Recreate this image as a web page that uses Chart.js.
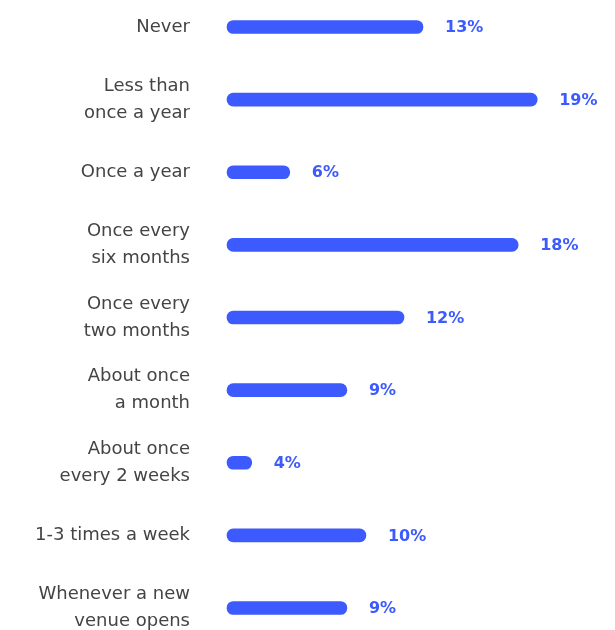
<!DOCTYPE html>
<html>
<head>
<meta charset="utf-8">
<script src="https://cdn.jsdelivr.net/npm/chart.js@4.4.1/dist/chart.umd.min.js"></script>
<style>
  html, body { margin: 0; padding: 0; background: #ffffff; }
  #wrap { width: 615px; height: 630px; }
</style>
</head>
<body>
<div id="wrap"><canvas id="freqChart"></canvas></div>
<script>
const categories = [
  "Never",
  ["Less than", "once a year"],
  "Once a year",
  ["Once every", "six months"],
  ["Once every", "two months"],
  ["About once", "a month"],
  ["About once", "every 2 weeks"],
  "1-3 times a week",
  ["Whenever a new", "venue opens"]
];
const shares = [13, 19, 6, 18, 12, 9, 4, 10, 9];

// value axis range (hidden axis)
const axisMin = 2.7;
const axisMax = 22.3;

const barBlue = "#3c5afd";

const valueLabels = {
  id: "valueLabels",
  afterDatasetsDraw(chart) {
    const ctx = chart.ctx;
    const meta = chart.getDatasetMeta(0);
    ctx.save();
    ctx.font = "bold 16px 'DejaVu Sans', sans-serif";
    ctx.fillStyle = barBlue;
    ctx.textAlign = "left";
    ctx.textBaseline = "middle";
    meta.data.forEach((bar, i) => {
      ctx.fillText(shares[i] + "%", bar.x + 22, bar.y + 1);
    });
    ctx.restore();
  }
};

const ctx = document.getElementById("freqChart").getContext("2d");

new Chart(ctx, {
  type: "bar",
  data: {
    labels: categories,
    datasets: [
      {
        data: shares,
        base: axisMin,
        backgroundColor: barBlue,
        barThickness: 13,
        borderRadius: 7,
        borderSkipped: false,
        clip: false
      }
    ]
  },
  plugins: [valueLabels],
  options: {
    indexAxis: "y",
    responsive: true,
    maintainAspectRatio: false,
    animation: false,
    layout: {
      padding: { top: 27, bottom: 22, left: 0, right: 15 }
    },
    plugins: {
      legend: { display: false },
      tooltip: { enabled: false }
    },
    scales: {
      x: {
        display: false,
        min: axisMin,
        max: axisMax
      },
      y: {
        offset: false,
        afterFit(scale) {
          scale.width = 227;
          scale.paddingTop = 0;
          scale.paddingBottom = 0;
        },
        grid: { display: false },
        border: { display: false },
        ticks: {
          color: "#444444",
          padding: 29,
          font: { family: "'DejaVu Sans', sans-serif", size: 18, lineHeight: 1.5 }
        }
      }
    }
  }
});
</script>
</body>
</html>
